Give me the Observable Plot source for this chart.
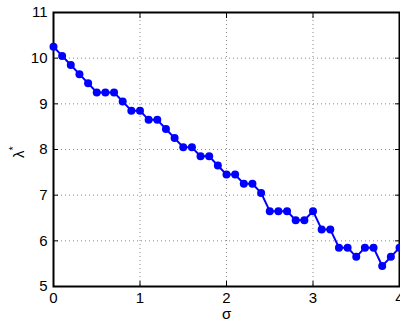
<!DOCTYPE html>
<html>
<head>
<meta charset="utf-8">
<script src="https://cdn.jsdelivr.net/npm/d3@7"></script>
<script src="https://cdn.jsdelivr.net/npm/@observablehq/plot@0.6"></script>
<style>
  html, body { margin: 0; padding: 0; background: #fff; }
  svg { display: block; }
</style>
</head>
<body>
<div id="chart"></div>
<script>
const sigma = [0, 0.1, 0.2, 0.3, 0.4, 0.5, 0.6, 0.7, 0.8, 0.9,
  1.0, 1.1, 1.2, 1.3, 1.4, 1.5, 1.6, 1.7, 1.8, 1.9,
  2.0, 2.1, 2.2, 2.3, 2.4, 2.5, 2.6, 2.7, 2.8, 2.9,
  3.0, 3.1, 3.2, 3.3, 3.4, 3.5, 3.6, 3.7, 3.8, 3.9, 4.0];
const lambdaStar = [10.25, 10.05, 9.85, 9.65, 9.45, 9.25, 9.25, 9.25, 9.05, 8.85,
  8.85, 8.65, 8.65, 8.45, 8.25, 8.05, 8.05, 7.85, 7.85, 7.65,
  7.45, 7.45, 7.25, 7.25, 7.05, 6.65, 6.65, 6.65, 6.45, 6.45,
  6.65, 6.25, 6.25, 5.85, 5.85, 5.65, 5.85, 5.85, 5.45, 5.65, 5.85];
const xTicks = [0, 1, 2, 3, 4];
const yTicks = [5, 6, 7, 8, 9, 10, 11];
const xLabel = "σ";

const data = sigma.map((s, i) => ({s, v: lambdaStar[i]}));

const font = "'Liberation Sans', Arial, Helvetica, sans-serif";

const plot = Plot.plot({
  width: 400,
  height: 322,
  marginLeft: 53,
  marginRight: 1,
  marginTop: 12,
  marginBottom: 36,
  style: {fontFamily: font, fontSize: "15px", color: "#000", background: "#fff"},
  x: {domain: [0, 4]},
  y: {domain: [5, 11]},
  marks: [
    Plot.gridX(xTicks, {stroke: "#888", strokeOpacity: 1, strokeDasharray: "1,3"}),
    Plot.gridY(yTicks, {stroke: "#888", strokeOpacity: 1, strokeDasharray: "1,3"}),
    Plot.axisX(xTicks, {anchor: "bottom", tickSize: -5, tickPadding: 11, label: null, tickFormat: d => String(d), fontSize: 15}),
    Plot.axisX(xTicks, {anchor: "top", tickSize: -5, text: null, label: null}),
    Plot.axisY(yTicks, {anchor: "left", tickSize: -5, tickPadding: 11, label: null, tickFormat: d => String(d), fontSize: 15}),
    Plot.axisY(yTicks, {anchor: "right", tickSize: -5, text: null, label: null}),
    Plot.frame({stroke: "#000", strokeWidth: 2}),
    Plot.line(data, {x: "s", y: "v", stroke: "#0000ff", strokeWidth: 2}),
    Plot.dot(data, {x: "s", y: "v", r: 4, fill: "#0000ff", stroke: "none"}),
    Plot.text([xLabel], {frameAnchor: "bottom", lineAnchor: "middle", dy: 28, text: d => d, fontSize: 15, fill: "#000"})
  ]
});

// y-axis label with superscript asterisk
const svg = d3.select(plot);
const t = svg.append("text")
  .attr("transform", "translate(24,152) rotate(-90)")
  .attr("text-anchor", "middle")
  .attr("font-family", font)
  .attr("font-size", 15)
  .attr("fill", "#000");
t.append("tspan").text("λ");
t.append("tspan").attr("font-size", 11).attr("dy", -7).text("*");

document.getElementById("chart").appendChild(plot);
</script>
</body>
</html>
